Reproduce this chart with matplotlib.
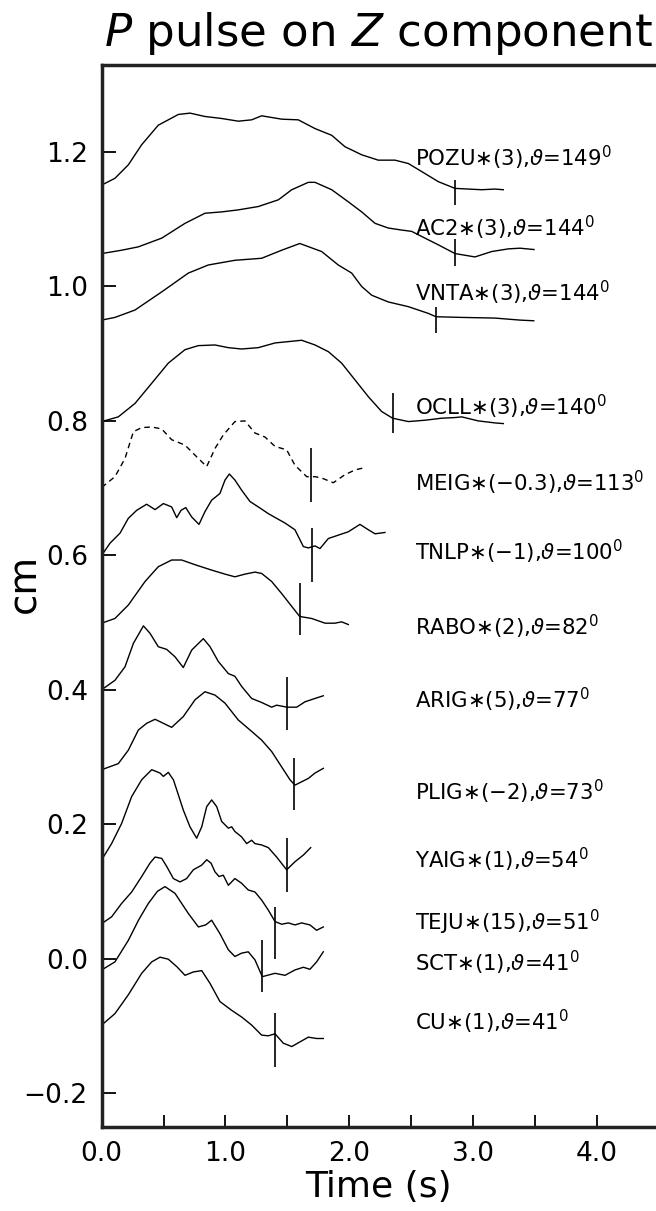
import matplotlib
matplotlib.use("Agg")
import matplotlib.pyplot as plt
from matplotlib.ticker import MultipleLocator, FormatStrFormatter, FuncFormatter

plt.rcParams['font.family'] = ['DejaVu Sans']
plt.rcParams['mathtext.fontset'] = 'dejavusans'

# ---------------- data ----------------
pozu_t = [0, 0.107, 0.215, 0.323, 0.457, 0.619, 0.713, 0.834, 0.969, 1.103, 1.211, 1.292, 1.454, 1.588,
          1.723, 1.858, 1.965, 2.100, 2.234, 2.369, 2.477, 2.585, 2.719, 2.854, 2.961, 3.069, 3.177, 3.244]
pozu_y = [1.151, 1.161, 1.181, 1.211, 1.240, 1.256, 1.258, 1.253, 1.250, 1.246, 1.248, 1.254, 1.249, 1.248,
          1.235, 1.225, 1.208, 1.196, 1.188, 1.188, 1.183, 1.171, 1.156, 1.146, 1.145, 1.144, 1.145, 1.144]

ac2_t = [0, 0.161, 0.296, 0.485, 0.673, 0.834, 0.969, 1.103, 1.265, 1.427, 1.535, 1.669, 1.723, 1.858,
         1.992, 2.100, 2.208, 2.315, 2.423, 2.504, 2.611, 2.719, 2.854, 3.015, 3.150, 3.285, 3.379, 3.492]
ac2_y = [1.049, 1.054, 1.059, 1.072, 1.094, 1.109, 1.111, 1.114, 1.119, 1.129, 1.144, 1.155, 1.155, 1.144,
         1.126, 1.111, 1.094, 1.087, 1.084, 1.082, 1.072, 1.062, 1.049, 1.044, 1.052, 1.056, 1.057, 1.055]

vnta_t = [0, 0.107, 0.269, 0.485, 0.700, 0.861, 1.076, 1.292, 1.454, 1.600, 1.777, 1.911, 2.019, 2.100,
          2.181, 2.315, 2.477, 2.638, 2.700, 2.908, 3.177, 3.379, 3.490]
vnta_y = [0.950, 0.954, 0.965, 0.992, 1.020, 1.032, 1.039, 1.042, 1.054, 1.064, 1.052, 1.032, 1.020, 1.000,
          0.987, 0.977, 0.970, 0.960, 0.955, 0.954, 0.953, 0.950, 0.949]

ocll_t = [0, 0.134, 0.269, 0.404, 0.538, 0.673, 0.780, 0.915, 1.023, 1.130, 1.265, 1.400, 1.508, 1.615,
          1.723, 1.831, 1.938, 2.046, 2.154, 2.261, 2.350, 2.477, 2.611, 2.746, 2.854, 2.908, 3.042, 3.177, 3.244]
ocll_y = [0.799, 0.806, 0.826, 0.856, 0.886, 0.906, 0.912, 0.913, 0.909, 0.907, 0.909, 0.916, 0.918, 0.920,
          0.913, 0.903, 0.886, 0.861, 0.836, 0.814, 0.804, 0.799, 0.801, 0.804, 0.805, 0.806, 0.800, 0.797, 0.796]

meig_t = [0, 0.107, 0.188, 0.256, 0.323, 0.404, 0.485, 0.565, 0.673, 0.754, 0.848, 0.915, 0.982, 1.076,
          1.157, 1.238, 1.319, 1.400, 1.494, 1.561, 1.656, 1.723, 1.777, 1.871, 1.965, 2.046, 2.113]
meig_y = [0.701, 0.717, 0.744, 0.784, 0.790, 0.791, 0.788, 0.772, 0.764, 0.749, 0.732, 0.759, 0.779, 0.799,
          0.800, 0.782, 0.776, 0.762, 0.757, 0.734, 0.717, 0.717, 0.715, 0.708, 0.720, 0.727, 0.730]

tnlp_t = [0, 0.067, 0.148, 0.215, 0.283, 0.363, 0.431, 0.498, 0.565, 0.606, 0.641, 0.679, 0.727, 0.786,
          0.834, 0.888, 0.955, 0.996, 1.031, 1.076, 1.130, 1.198, 1.265, 1.346, 1.413, 1.481, 1.561, 1.629,
          1.669, 1.723, 1.763, 1.831, 1.911, 1.992, 2.086, 2.154, 2.208, 2.288]
tnlp_y = [0.600, 0.618, 0.633, 0.655, 0.667, 0.676, 0.668, 0.677, 0.672, 0.656, 0.667, 0.671, 0.657, 0.646,
          0.665, 0.682, 0.692, 0.712, 0.721, 0.712, 0.697, 0.680, 0.672, 0.662, 0.655, 0.648, 0.638, 0.613,
          0.611, 0.614, 0.610, 0.625, 0.630, 0.635, 0.646, 0.638, 0.632, 0.634]

rabo_t = [0, 0.107, 0.215, 0.350, 0.457, 0.565, 0.646, 0.754, 0.888, 0.996, 1.076, 1.157, 1.238, 1.292,
          1.373, 1.454, 1.535, 1.599, 1.696, 1.804, 1.884, 1.938, 1.992]
rabo_y = [0.499, 0.506, 0.526, 0.561, 0.583, 0.593, 0.593, 0.586, 0.578, 0.572, 0.568, 0.572, 0.575, 0.573,
          0.561, 0.543, 0.524, 0.509, 0.506, 0.499, 0.499, 0.501, 0.497]

arig_t = [0, 0.107, 0.188, 0.256, 0.337, 0.390, 0.457, 0.525, 0.592, 0.659, 0.727, 0.821, 0.875, 0.942,
          1.023, 1.076, 1.130, 1.211, 1.292, 1.373, 1.413, 1.497, 1.575, 1.642, 1.723, 1.790]
arig_y = [0.400, 0.414, 0.434, 0.469, 0.495, 0.484, 0.464, 0.460, 0.449, 0.433, 0.459, 0.476, 0.464, 0.442,
          0.424, 0.420, 0.405, 0.387, 0.381, 0.374, 0.377, 0.374, 0.374, 0.382, 0.387, 0.391]

plig_t = [0, 0.134, 0.215, 0.296, 0.363, 0.431, 0.498, 0.565, 0.659, 0.754, 0.834, 0.915, 0.996, 1.103,
          1.211, 1.292, 1.373, 1.454, 1.521, 1.561, 1.615, 1.669, 1.723, 1.790]
plig_y = [0.281, 0.290, 0.310, 0.340, 0.350, 0.356, 0.350, 0.344, 0.360, 0.385, 0.397, 0.392, 0.380, 0.355,
          0.338, 0.325, 0.308, 0.285, 0.266, 0.258, 0.263, 0.268, 0.276, 0.283]

yaig_t = [0, 0.080, 0.161, 0.242, 0.323, 0.404, 0.471, 0.498, 0.538, 0.579, 0.606, 0.659, 0.713, 0.767,
          0.808, 0.848, 0.888, 0.929, 0.969, 1.023, 1.050, 1.076, 1.130, 1.171, 1.211, 1.238, 1.292, 1.346,
          1.413, 1.494, 1.561, 1.629, 1.688]
yaig_y = [0.147, 0.171, 0.201, 0.241, 0.266, 0.281, 0.276, 0.271, 0.277, 0.266, 0.251, 0.221, 0.196, 0.179,
          0.196, 0.226, 0.236, 0.226, 0.204, 0.194, 0.196, 0.189, 0.181, 0.171, 0.176, 0.171, 0.169, 0.165,
          0.151, 0.132, 0.144, 0.154, 0.165]

teju_t = [0, 0.080, 0.161, 0.242, 0.323, 0.390, 0.431, 0.485, 0.525, 0.579, 0.633, 0.686, 0.740, 0.808,
          0.848, 0.883, 0.915, 0.948, 0.982, 1.023, 1.076, 1.130, 1.184, 1.238, 1.292, 1.346, 1.400, 1.454,
          1.508, 1.561, 1.615, 1.682, 1.736, 1.790]
teju_y = [0.052, 0.062, 0.082, 0.099, 0.122, 0.142, 0.151, 0.149, 0.137, 0.119, 0.114, 0.119, 0.132, 0.139,
          0.147, 0.142, 0.129, 0.122, 0.124, 0.109, 0.119, 0.112, 0.102, 0.099, 0.087, 0.072, 0.055, 0.051,
          0.053, 0.050, 0.053, 0.050, 0.042, 0.047]

sct_t = [0, 0.107, 0.215, 0.300, 0.377, 0.450, 0.511, 0.592, 0.700, 0.781, 0.840, 0.888, 0.955, 1.023,
         1.076, 1.130, 1.184, 1.238, 1.297, 1.400, 1.481, 1.561, 1.629, 1.682, 1.736, 1.790]
sct_y = [-0.017, -0.005, 0.027, 0.058, 0.082, 0.100, 0.107, 0.097, 0.067, 0.047, 0.050, 0.057, 0.037, 0.013,
         0.003, 0.008, 0.010, -0.002, -0.027, -0.022, -0.025, -0.017, -0.013, -0.016, -0.005, 0.010]

cu_t = [0, 0.107, 0.215, 0.323, 0.404, 0.471, 0.538, 0.606, 0.673, 0.740, 0.808, 0.875, 0.955, 1.049,
        1.130, 1.211, 1.292, 1.346, 1.400, 1.467, 1.535, 1.602, 1.669, 1.736, 1.790]
cu_y = [-0.099, -0.082, -0.054, -0.022, -0.005, 0.002, -0.001, -0.012, -0.025, -0.020, -0.018, -0.037,
        -0.064, -0.077, -0.087, -0.099, -0.114, -0.115, -0.112, -0.126, -0.131, -0.124, -0.117, -0.119, -0.119]

stations = ["POZU", "AC2", "VNTA", "OCLL", "MEIG", "TNLP", "RABO",
            "ARIG", "PLIG", "YAIG", "TEJU", "SCT", "CU"]
scales = ["3", "3", "3", "3", "−0.3", "−1", "2", "5", "−2", "1", "15", "1", "1"]
azimuths = ["149", "144", "144", "140", "113", "100", "82", "77", "73", "54", "51", "41", "41"]
label_y = [1.191, 1.087, 0.990, 0.821, 0.708, 0.605, 0.493, 0.385, 0.248, 0.147, 0.054, -0.007, -0.094]
label_t = 2.53

pick_t = [2.854, 2.854, 2.700, 2.350, 1.688, 1.701, 1.599, 1.497, 1.556, 1.497, 1.400, 1.297, 1.400]
pick_lo = [1.121, 1.030, 0.931, 0.782, 0.679, 0.560, 0.481, 0.340, 0.221, 0.099, 0.000, -0.050, -0.161]
pick_hi = [1.158, 1.071, 0.970, 0.842, 0.760, 0.641, 0.559, 0.419, 0.298, 0.179, 0.077, 0.028, -0.081]

traces_t = [pozu_t, ac2_t, vnta_t, ocll_t, meig_t, tnlp_t, rabo_t, arig_t, plig_t, yaig_t, teju_t, sct_t, cu_t]
traces_y = [pozu_y, ac2_y, vnta_y, ocll_y, meig_y, tnlp_y, rabo_y, arig_y, plig_y, yaig_y, teju_y, sct_y, cu_y]
dashed = ["MEIG"]

# ---------------- figure ----------------
W, H = 656, 1211
fig = plt.figure(figsize=(W / 100, H / 100), dpi=100)
left_px, right_px, top_px, bot_px = 101.7, 656, 65, 1127
ax = fig.add_axes([left_px / W, 1 - bot_px / H, (right_px - left_px) / W, (bot_px - top_px) / H])

for name, tt, yy in zip(stations, traces_t, traces_y):
    if name in dashed:
        ax.plot(tt, yy, color='black', lw=1.0, linestyle=(0, (4, 3)))
    else:
        ax.plot(tt, yy, color='black', lw=1.0)

ax.vlines(pick_t, pick_lo, pick_hi, color='black', lw=1.2)

for name, sc, az, ly in zip(stations, scales, azimuths, label_y):
    ax.text(label_t, ly, name + "$\\ast$(" + sc + "),$\\vartheta$=" + az + "$^{0}$",
            fontsize=15.3, va='center', ha='left')

ax.set_xlim(0, (right_px - left_px) / 123.8)
ax.set_ylim(-0.2507, 1.3296)


def yfmt(v, pos):
    s = "%.1f" % v
    if s.startswith("-"):
        s = "\u2212" + s[1:]
    if s == "\u22120.0":
        s = "0.0"
    return s


ax.xaxis.set_major_locator(MultipleLocator(1.0))
ax.xaxis.set_minor_locator(MultipleLocator(0.5))
ax.xaxis.set_major_formatter(FormatStrFormatter('%.1f'))
ax.yaxis.set_major_locator(MultipleLocator(0.2))
ax.yaxis.set_major_formatter(FuncFormatter(yfmt))
ax.tick_params(axis='x', which='both', direction='in', length=9, width=1.3, labelsize=19, pad=10)
ax.tick_params(axis='y', which='major', direction='in', length=10, width=1.3, labelsize=19, pad=10)
ax.tick_params(axis='y', which='minor', left=False)

for s in ['left', 'bottom', 'top']:
    ax.spines[s].set_linewidth(2.5)
    ax.spines[s].set_color('#222222')
ax.spines['right'].set_visible(False)

ax.set_xlabel("Time (s)", fontsize=26, labelpad=2)
ax.set_ylabel("cm", fontsize=28)
ax.yaxis.label.set_verticalalignment('center')
ax.yaxis.set_label_coords((24 - left_px) / (right_px - left_px), (bot_px - 583) / (bot_px - top_px))
ax.set_title("$P$ pulse on $Z$ component", fontsize=32.5, pad=14)

fig.savefig("out.png", dpi=100)
